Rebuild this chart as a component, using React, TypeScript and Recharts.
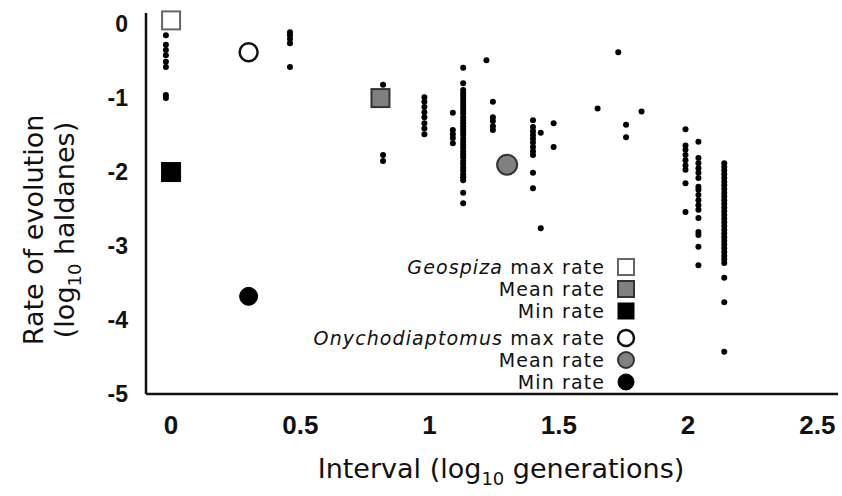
import { Legend, Scatter, ScatterChart, XAxis, YAxis } from "recharts";

// small black dots: one x per column, y values read top to bottom
const columnX = [-0.02, 0.46, 0.82, 0.98, 1.09, 1.13, 1.22, 1.245, 1.4, 1.43, 1.48, 1.65, 1.73, 1.76, 1.82, 1.99, 2.04, 2.14];
const columnY = [
  [-0.15, -0.28, -0.35, -0.42, -0.51, -0.58, -0.96, -1.0],
  [-0.11, -0.15, -0.2, -0.26, -0.58],
  [-0.82, -1.77, -1.85],
  [-0.99, -1.05, -1.12, -1.19, -1.26, -1.34, -1.41, -1.49],
  [-1.2, -1.43, -1.49, -1.54, -1.61],
  [-0.59, -0.8, -0.89, -0.93, -0.97, -1.01, -1.05, -1.09, -1.13, -1.17, -1.21, -1.26, -1.3, -1.34, -1.38, -1.42, -1.46, -1.5, -1.55, -1.59, -1.63, -1.67, -1.72, -1.76, -1.8, -1.85, -1.89, -1.94, -1.98, -2.03, -2.07, -2.11, -2.28, -2.42],
  [-0.49],
  [-1.05, -1.26, -1.31, -1.38, -1.43],
  [-1.3, -1.39, -1.45, -1.5, -1.55, -1.6, -1.66, -1.72, -1.77, -2.01, -2.22],
  [-1.47, -2.76],
  [-1.34, -1.66],
  [-1.14],
  [-0.38],
  [-1.36, -1.53],
  [-1.18],
  [-1.42, -1.64, -1.7, -1.77, -1.84, -1.91, -1.97, -2.15, -2.54],
  [-1.59, -1.81, -1.88, -1.95, -2.01, -2.08, -2.2, -2.24, -2.31, -2.38, -2.45, -2.51, -2.62, -2.81, -2.85, -3.01, -3.26],
  [-1.88, -1.93, -1.98, -2.03, -2.08, -2.13, -2.18, -2.23, -2.28, -2.33, -2.38, -2.43, -2.48, -2.53, -2.58, -2.63, -2.68, -2.73, -2.78, -2.83, -2.88, -2.93, -2.98, -3.03, -3.08, -3.13, -3.18, -3.23, -3.43, -3.76, -4.43],
];

// summary markers: [max, mean, min]
const geospizaX = [0, 0.81, 0];
const geospizaY = [0.05, -1.0, -2.0];
const onychoX = [0.3, 1.3, 0.3];
const onychoY = [-0.38, -1.9, -3.68];

const xTicks = [0, 0.5, 1, 1.5, 2, 2.5];
const yTicks = [0, -1, -2, -3, -4, -5];

const dots = columnX.flatMap((x, i) => columnY[i].map((y) => ({ x, y })));
const geoMax = [{ x: geospizaX[0], y: geospizaY[0] }];
const geoMean = [{ x: geospizaX[1], y: geospizaY[1] }];
const geoMin = [{ x: geospizaX[2], y: geospizaY[2] }];
const onyMax = [{ x: onychoX[0], y: onychoY[0] }];
const onyMean = [{ x: onychoX[1], y: onychoY[1] }];
const onyMin = [{ x: onychoX[2], y: onychoY[2] }];

const FONT = "'DejaVu Sans', sans-serif";
const TICK_FONT = "'Liberation Sans', Arial, sans-serif";

const markerStyles = {
  sqWhite: { fill: "#fff", stroke: "#666", strokeWidth: 2 },
  sqGrey: { fill: "#808080", stroke: "#333", strokeWidth: 2 },
  sqBlack: { fill: "#000", stroke: "#000", strokeWidth: 1 },
  ciWhite: { fill: "#fff", stroke: "#111", strokeWidth: 2.5 },
  ciGrey: { fill: "#808080", stroke: "#333", strokeWidth: 2 },
  ciBlack: { fill: "#000", stroke: "#000", strokeWidth: 1 },
};

const square = (style: any, size: number) => (props: any) => (
  <rect x={props.cx - size / 2} y={props.cy - size / 2} width={size} height={size} {...style} />
);
const circle = (style: any, r: number) => (props: any) => (
  <circle cx={props.cx} cy={props.cy} r={r} {...style} />
);
const dotShape = (props: any) => <circle cx={props.cx} cy={props.cy} r={3} fill="#000" />;

const legendRows = [
  { italic: "Geospiza", text: " max rate", shape: "sq", style: markerStyles.sqWhite, y: 267 },
  { italic: "", text: "Mean rate", shape: "sq", style: markerStyles.sqGrey, y: 289 },
  { italic: "", text: "Min rate", shape: "sq", style: markerStyles.sqBlack, y: 311 },
  { italic: "Onychodiaptomus", text: " max rate", shape: "ci", style: markerStyles.ciWhite, y: 338 },
  { italic: "", text: "Mean rate", shape: "ci", style: markerStyles.ciGrey, y: 360 },
  { italic: "", text: "Min rate", shape: "ci", style: markerStyles.ciBlack, y: 382 },
];

function LegendBox() {
  return (
    <svg width={842} height={496} style={{ position: "absolute", left: 0, top: 0 }}>
      {legendRows.map((r, i) => (
        <g key={i}>
          <text x={605} y={r.y + 7} textAnchor="end" fontFamily={FONT} fontSize={19} letterSpacing={1.1} fill="#111">
            {r.italic && <tspan fontStyle="italic">{r.italic}</tspan>}
            <tspan>{r.text}</tspan>
          </text>
          {r.shape === "sq" ? (
            <rect x={626 - 8} y={r.y - 8} width={16} height={16} {...r.style} />
          ) : (
            <circle cx={626} cy={r.y} r={8} {...r.style} />
          )}
        </g>
      ))}
    </svg>
  );
}

function YTitle() {
  return (
    <g fontFamily={FONT} fontSize={27} fill="#111">
      <text x={34} y={230} textAnchor="middle" transform="rotate(-90 34 230)" dy="0.35em">
        Rate of evolution
      </text>
      <text x={65} y={230} textAnchor="middle" transform="rotate(-90 65 230)" dy="0.35em">
        <tspan>(log</tspan>
        <tspan fontSize={18} dy={7}>10</tspan>
        <tspan dy={-7}> haldanes)</tspan>
      </text>
    </g>
  );
}

function XTitle() {
  return (
    <text x={501} y={478} textAnchor="middle" fontFamily={FONT} fontSize={27} fill="#111">
      <tspan>Interval (log</tspan>
      <tspan fontSize={18} dy={7}>10</tspan>
      <tspan dy={-7}> generations)</tspan>
    </text>
  );
}

export default function App() {
  return (
    <div style={{ position: "absolute", left: 0, top: 0, width: 842, height: 496, background: "#fff" }}>
      <ScatterChart width={842} height={496} margin={{ top: 13, right: 4, left: 0, bottom: 42 }}>
        <XAxis
          type="number"
          dataKey="x"
          domain={[-0.097, 2.58]}
          ticks={xTicks}
          height={60}
          tickLine={false}
          tickMargin={16}
          axisLine={{ stroke: "#111", strokeWidth: 2.5 }}
          tick={{ fontSize: 26, fontFamily: TICK_FONT, fill: "#111", fontWeight: "bold" }}
          tickFormatter={(v) => String(v)}
          label={<XTitle />}
        />
        <YAxis
          type="number"
          dataKey="y"
          domain={[-5, 0.15]}
          ticks={yTicks}
          width={146}
          tickLine={false}
          tickMargin={12}
          axisLine={{ stroke: "#111", strokeWidth: 2.5 }}
          tick={{ fontSize: 23, fontFamily: TICK_FONT, fill: "#111", fontWeight: "bold" }}
          label={<YTitle />}
        />
        <Scatter data={dots} shape={dotShape} isAnimationActive={false} />
        <Scatter data={geoMax} shape={square(markerStyles.sqWhite, 18)} isAnimationActive={false} />
        <Scatter data={geoMean} shape={square(markerStyles.sqGrey, 18)} isAnimationActive={false} />
        <Scatter data={geoMin} shape={square(markerStyles.sqBlack, 19)} isAnimationActive={false} />
        <Scatter data={onyMax} shape={circle(markerStyles.ciWhite, 9)} isAnimationActive={false} />
        <Scatter data={onyMean} shape={circle(markerStyles.ciGrey, 10)} isAnimationActive={false} />
        <Scatter data={onyMin} shape={circle(markerStyles.ciBlack, 9)} isAnimationActive={false} />
        <Legend content={() => null} />
      </ScatterChart>
      <LegendBox />
    </div>
  );
}
